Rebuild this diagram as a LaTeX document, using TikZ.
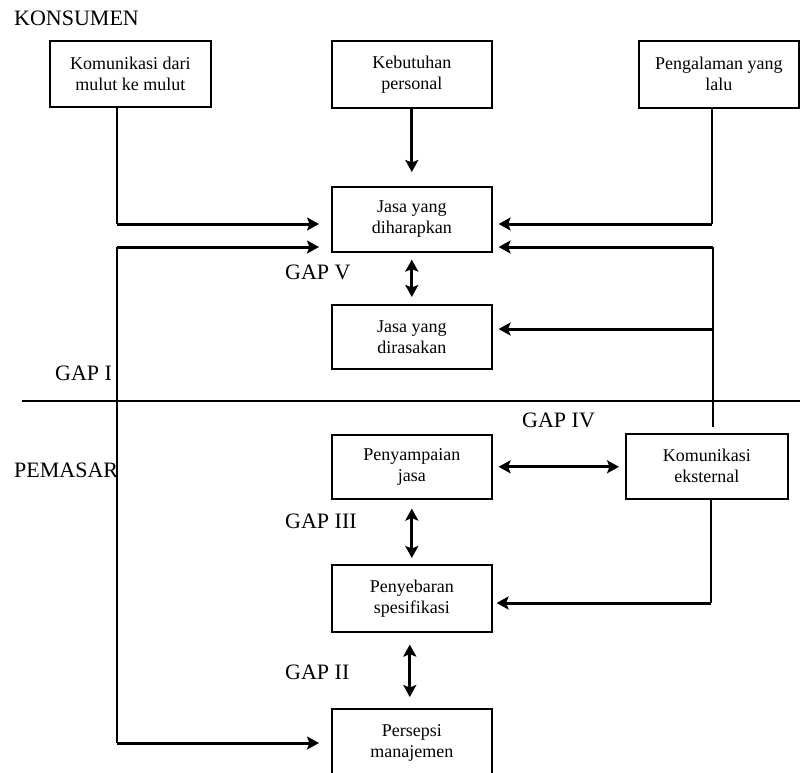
\documentclass[tikz,border=0pt]{standalone}
\usepackage{fontspec}
\setmainfont{Liberation Serif}
\usetikzlibrary{arrows.meta}
\begin{document}
\begin{tikzpicture}[x=1pt,y=-1pt,
  box/.style={draw,line width=1.6pt,minimum width=160pt,minimum height=66pt,inner sep=0pt,align=center,font=\fontsize{18}{21}\selectfont,anchor=north west},
  lbl/.style={anchor=west,inner sep=0pt,font=\fontsize{22}{24}\selectfont},
  thinl/.style={line width=1.3pt},
  arr/.style={line width=3pt,-{Stealth[length=12pt,width=13pt,inset=2.5pt]}},
  darr/.style={line width=3pt,{Stealth[length=12pt,width=13pt,inset=2.5pt]}-{Stealth[length=12pt,width=13pt,inset=2.5pt]}}]
\useasboundingbox[fill=white] (0,0) rectangle (800,773);

% boxes
\node[box,minimum width=161pt] (km) at (49,40) {Komunikasi dari\\mulut ke mulut};
\node[box,minimum height=67pt] (ks) at (331,40) {Kebutuhan\\personal};
\node[box,minimum height=67pt] (pl) at (638,40) {Pengalaman yang\\lalu};
\node[box,minimum height=65pt] (dh) at (331,186) {Jasa yang\\diharapkan};
\node[box,minimum height=64pt] (dr) at (331,304) {Jasa yang\\dirasakan};
\node[box,minimum height=64pt] (pj) at (331,434) {Penyampaian\\jasa};
\node[box,minimum width=162pt,minimum height=65pt] (ke) at (625,433) {Komunikasi\\eksternal};
\node[box,minimum height=67pt] (ps) at (331,564) {Penyebaran\\spesifikasi};
\node[box,minimum height=68pt] (pm) at (331,708) {Persepsi\\manajemen};

% labels
\node[lbl] (kons) at (14,18) {KONSUMEN};
\node[lbl] (g5) at (285,272) {GAP V};
\node[lbl] (g1) at (55,373) {GAP I};
\node[lbl] (g4) at (522,420) {GAP IV};
\node[lbl] (pem) at (14,470) {PEMASAR};
\node[lbl] (g3) at (285,521) {GAP III};
\node[lbl] (g2) at (285,672) {GAP II};

% divider
\draw[line width=2pt] (22,401) -- (800,401);

% corner coordinates
\coordinate (c1) at (117,224);
\coordinate (c2) at (712,224);
\coordinate (c3) at (117,247);
\coordinate (c4) at (117,743);
\coordinate (c5) at (713,247);
\coordinate (c6) at (713,329);
\coordinate (c7) at (711,603);

% connectors
\draw[thinl] (km.south -| c1) -- (c1);
\draw[arr,shorten >=12pt] (c1) -- (dh.west |- c1);
\draw[arr,shorten >=14pt] (ks.south) -- (dh.north);
\draw[thinl] (pl.south -| c2) -- (c2);
\draw[arr,shorten >=6pt] (c2) -- (dh.east |- c2);

\draw[thinl] (c3) -- (c4);
\draw[arr,shorten >=12pt] (c3) -- (dh.west |- c3);
\draw[arr,shorten >=12pt] (c4) -- (pm.west |- c4);

\draw[thinl,shorten >=6pt] (c5) -- (ke.north -| c5);
\draw[arr,shorten >=6pt] (c5) -- (dh.east |- c5);
\draw[arr,shorten >=6pt] (c6) -- (dr.east |- c6);

\draw[thinl] (ke.south -| c7) -- (c7);
\draw[arr,shorten >=4pt] (c7) -- (ps.east |- c7);

\draw[darr,shorten <=7pt,shorten >=7pt] (dh.south) -- (dr.north);
\draw[darr,shorten <=6pt,shorten >=6pt] (pj.east) -- (pj.east -| ke.west);
\draw[darr,shorten <=9pt,shorten >=6pt] (pj.south) -- (ps.north);
\draw[darr,shorten <=12pt,shorten >=11pt] ([xshift=-2pt]ps.south) -- ([xshift=-2pt]pm.north);
\end{tikzpicture}
\end{document}
